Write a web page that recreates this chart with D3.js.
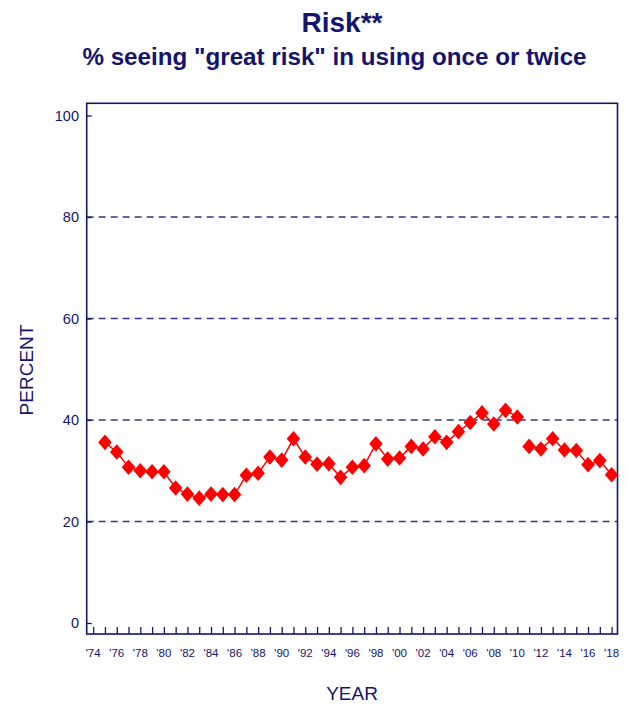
<!DOCTYPE html>
<html>
<head>
<meta charset="utf-8">
<script src="https://cdn.jsdelivr.net/npm/d3@7"></script>
<style>
  html, body { margin: 0; padding: 0; background: #ffffff; }
  svg { display: block; }
  text { font-family: "Liberation Sans", Arial, Helvetica, sans-serif; }
</style>
</head>
<body>
<svg id="chart" width="628" height="705"></svg>
<script>
// ---- data ----
const titleText = "Risk**";
const subtitleText = '% seeing "great risk" in using once or twice';
const years = [1975,1976,1977,1978,1979,1980,1981,1982,1983,1984,1985,1986,1987,1988,1989,1990,
  1991,1992,1993,1994,1995,1996,1997,1998,1999,2000,2001,2002,2003,2004,2005,2006,2007,2008,2009,2010,
  2011,2012,2013,2014,2015,2016,2017,2018];
const values = [35.6,33.7,30.7,30.0,29.8,29.8,26.6,25.4,24.6,25.4,25.3,25.3,29.1,29.5,32.7,32.1,
  36.3,32.7,31.3,31.4,28.7,30.7,31.0,35.3,32.3,32.5,34.8,34.3,36.7,35.6,37.7,39.5,41.4,39.2,41.9,40.6,
  34.8,34.3,36.3,34.1,34.0,31.2,32.0,29.2];
const lineBreakBefore = [2011];           // trend line is not connected across this break
const yTicks = [0,20,40,60,80,100];
const yGrid = [20,40,60,80];
const xTickYears = d3.range(1974, 2019);  // minor tick each year
const xLabelYears = d3.range(1974, 2019, 2);

// ---- layout ----
const navy = "#14146e";
const red = "#ff0000";
const frame = {left: 86.7, right: 617.5, top: 103.3, bottom: 634};

const svg = d3.select("#chart");

const x = d3.scaleLinear().domain([1973.45, 2018.5]).range([frame.left, frame.right]);
const y = d3.scaleLinear().domain([0, 100]).range([623, 115.5]);

// titles
svg.append("text").attr("x", 342).attr("y", 32).attr("text-anchor", "middle")
  .attr("font-size", 28).attr("font-weight", "bold").attr("fill", navy).text(titleText);
svg.append("text").attr("x", 334.5).attr("y", 65).attr("text-anchor", "middle")
  .attr("font-size", 24.2).attr("font-weight", "bold").attr("fill", navy).text(subtitleText);

// grid lines
svg.append("g").selectAll("line").data(yGrid).join("line")
  .attr("x1", frame.left).attr("x2", frame.right)
  .attr("y1", d => y(d)).attr("y2", d => y(d))
  .attr("stroke", navy).attr("stroke-width", 1.3)
  .attr("stroke-dasharray", "7,5").attr("opacity", 0.85);

// y axis (ticks inside the frame)
const yAxis = d3.axisRight(y).tickValues(yTicks).tickSize(5).tickFormat("");
const gy = svg.append("g").attr("transform", `translate(${frame.left},0)`).call(yAxis);
gy.select(".domain").remove();
gy.selectAll("line").attr("stroke", navy).attr("stroke-width", 1.3);
svg.append("g").selectAll("text").data(yTicks).join("text")
  .attr("x", 79).attr("y", d => y(d)).attr("dy", "0.36em")
  .attr("text-anchor", "end").attr("font-size", 14.5).attr("fill", navy)
  .text(d => d);

// x axis ticks (upward from bottom frame)
const xAxis = d3.axisTop(x).tickValues(xTickYears).tickSize(7).tickFormat("");
const gx = svg.append("g").attr("transform", `translate(0,${frame.bottom})`).call(xAxis);
gx.select(".domain").remove();
gx.selectAll("line").attr("stroke", navy).attr("stroke-width", 1.3);
svg.append("g").selectAll("text").data(xLabelYears).join("text")
  .attr("x", d => x(d)).attr("y", 657)
  .attr("text-anchor", "middle").attr("font-size", 11.5).attr("fill", navy)
  .text(d => "'" + String(d).slice(2));

// frame
svg.append("rect").attr("x", frame.left).attr("y", frame.top)
  .attr("width", frame.right - frame.left).attr("height", frame.bottom - frame.top)
  .attr("fill", "none").attr("stroke", navy).attr("stroke-width", 1.6);

// axis titles
svg.append("text").attr("transform", "translate(33,370) rotate(-90)")
  .attr("text-anchor", "middle").attr("font-size", 19).attr("fill", navy).text("PERCENT");
svg.append("text").attr("x", 352).attr("y", 700)
  .attr("text-anchor", "middle").attr("font-size", 19).attr("fill", navy).text("YEAR");

// data line segments
const points = years.map((yr, i) => ({year: yr, value: values[i]}));
const segments = [];
points.forEach(p => {
  if (segments.length === 0 || lineBreakBefore.includes(p.year)) segments.push([]);
  segments[segments.length - 1].push(p);
});
const line = d3.line().x(d => x(d.year)).y(d => y(d.value));
svg.append("g").selectAll("path").data(segments).join("path")
  .attr("d", line).attr("fill", "none").attr("stroke", red).attr("stroke-width", 1.5);

// diamond markers
const hw = 6.8, hh = 7.8;
svg.append("g").selectAll("path").data(points).join("path")
  .attr("transform", d => `translate(${x(d.year)},${y(d.value)})`)
  .attr("d", `M0,${-hh}L${hw},0L0,${hh}L${-hw},0Z`)
  .attr("fill", red);
</script>
</body>
</html>
